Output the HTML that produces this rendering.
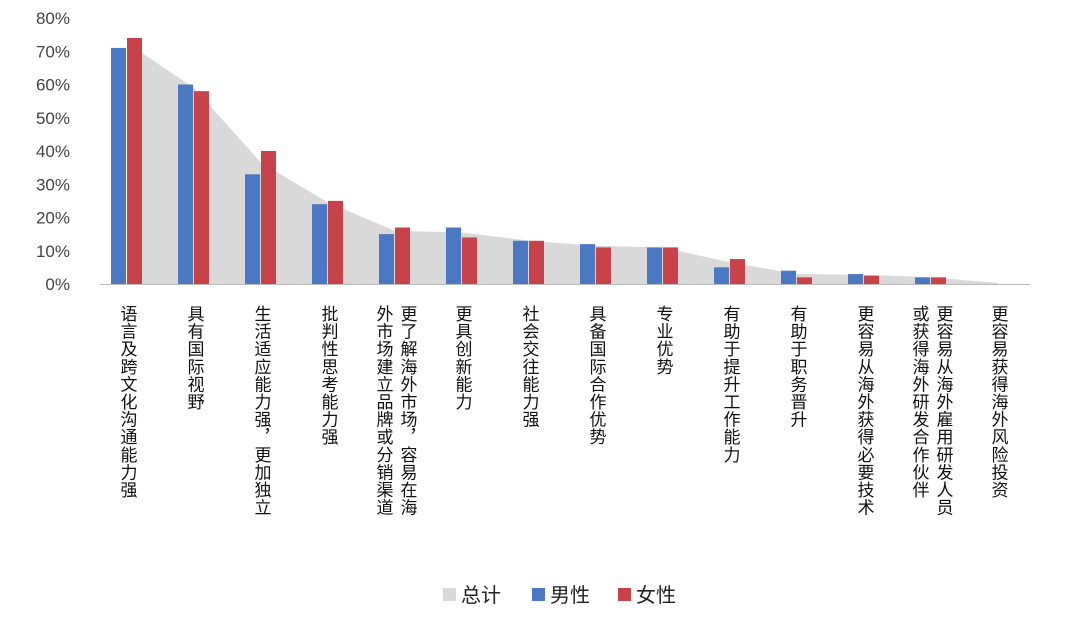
<!DOCTYPE html>
<html><head><meta charset="utf-8"><style>
body{margin:0;background:#fff;}
svg{display:block;font-family:"Liberation Sans","Noto Sans CJK SC",sans-serif;}
</style></head><body>
<svg id="chart" width="1080" height="621" viewBox="0 0 1080 621"></svg>
<script>
const categories=[["语言及跨文化沟通能力强"],["具有国际视野"],["生活适应能力强，更加独立"],["批判性思考能力强"],["更了解海外市场，容易在海","外市场建立品牌或分销渠道"],["更具创新能力"],["社会交往能力强"],["具备国际合作优势"],["专业优势"],["有助于提升工作能力"],["有助于职务晋升"],["更容易从海外获得必要技术"],["更容易从海外雇用研发人员","或获得海外研发合作伙伴"],["更容易获得海外风险投资"]];
const male=[71,60,33,24,15,17,13,12,11,5,4,3,2,0];
const female=[74,58,40,25,17,14,13,11,11,7.5,2,2.5,2,0];
const total=[72.5,59,36.5,24.5,16,15.5,13,11.5,11,6.5,3,2.8,2,0.3];
const yTicks=[0,10,20,30,40,50,60,70,80];
const NS="http://www.w3.org/2000/svg";
const svg=document.getElementById('chart');
const y0=284,yTop=18,yMax=80;
const yScale=v=>y0-(v/yMax)*(y0-yTop);
const xScale=i=>127+i*67;
function mk(t,a,p){const e=document.createElementNS(NS,t);for(const k in a)e.setAttribute(k,a[k]);(p||svg).appendChild(e);return e;}
// y ticks
yTicks.forEach(v=>{const t=mk('text',{x:70,y:yScale(v)+6,'text-anchor':'end','font-size':17,fill:'#444'});t.textContent=v+'%';

});
// area
let d='M'+xScale(0)+','+y0;
total.forEach((v,i)=>{d+=' L'+xScale(i)+','+yScale(v);});
d+=' L'+xScale(total.length-1)+','+y0+' Z';
const area=mk('path',{d:d,fill:'#d9d9d9'});


// bars
male.forEach((v,i)=>{const r=mk('rect',{x:xScale(i)-16,y:yScale(v),width:15,height:y0-yScale(v),fill:'#4a78c2'});

});
female.forEach((v,i)=>{const r=mk('rect',{x:xScale(i),y:yScale(v),width:15,height:y0-yScale(v),fill:'#c8424a'});

});
// axis
const ax=mk('line',{x1:100,x2:1030,y1:y0+0.5,y2:y0+0.5,stroke:'#bbb','stroke-width':1});


// labels
categories.forEach((lines,i)=>{
  const n=lines.length;
  lines.forEach((s,j)=>{
    const cx=xScale(i)+(n===2?(j===0?12:-12):0);
    const t=mk('text',{x:cx,y:305,'font-size':17,fill:'#111','writing-mode':'tb','style':'writing-mode:vertical-rl;letter-spacing:0.6px','dominant-baseline':'central'});
    t.textContent=s;
    
    
  });
});
// legend
const leg=[['总计','#d9d9d9',443],['男性','#4a78c2',532],['女性','#c8424a',618]];
leg.forEach(l=>{const g=mk('g',{});


mk('rect',{x:l[2],y:588,width:13,height:13,fill:l[1]},g);
const t=mk('text',{x:l[2]+18,y:602,'font-size':20,fill:'#222'},g);t.textContent=l[0];});
</script>
</body></html>
